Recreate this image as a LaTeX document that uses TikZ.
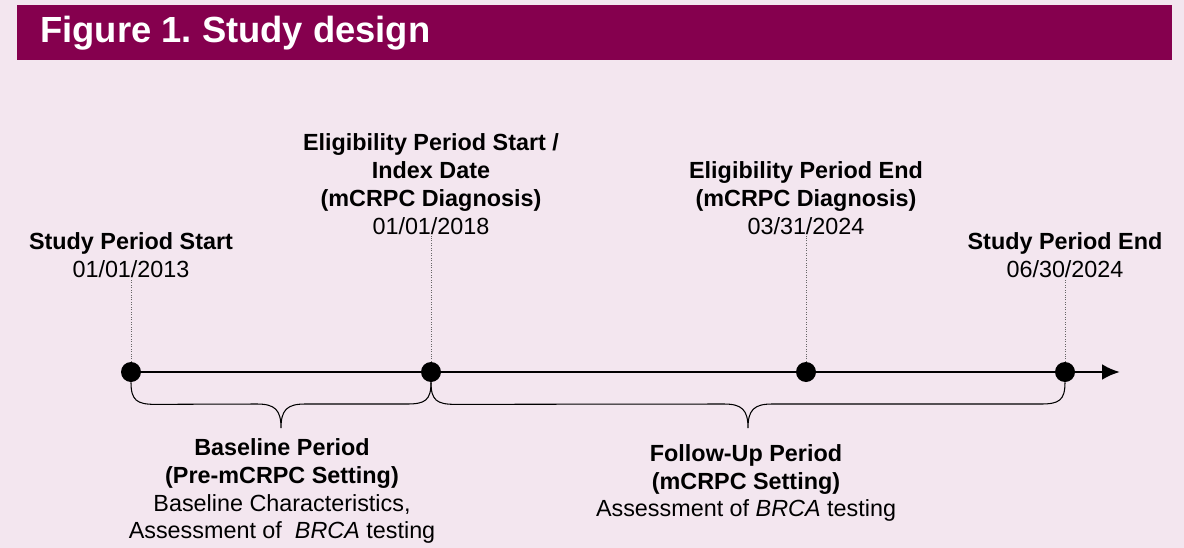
\documentclass[tikz,border=0pt]{standalone}
\usepackage{fontspec}
\setmainfont{Liberation Sans}
\usetikzlibrary{arrows.meta,calc}
\definecolor{sdbg}{HTML}{F3E6EF}
\definecolor{sdtitle}{HTML}{85004E}
\frenchspacing

\begin{document}
\begin{tikzpicture}[x=0.02cm,y=-0.02cm,font=\fontsize{13.3}{15.9}\selectfont,
  dot/.style={circle,fill=black,inner sep=0pt,minimum size=0.4cm},
  lbl/.style={align=center,inner sep=0pt},
  tick/.style={densely dotted,black!60,thin},
  brc/.style={black,semithick},
  axis/.style={-{Latex[length=3.6mm,width=3.2mm]},line width=1.7pt}]

% ---------------- page and title bar ---------------------------------------
\fill[sdbg] (0,0) rectangle (1184,548);
\useasboundingbox (0,0) rectangle (1184,548);
\fill[sdtitle] (17,5) rectangle (1172,60);
\node[anchor=west,text=white,inner sep=0pt,font=\fontsize{20.7}{24}\selectfont\bfseries]
  (title) at (40,33) {Figure 1. Study design};

% ---------------- timeline --------------------------------------------------
\coordinate (tl) at (1120,372);
\node[dot] (d1) at (131,372) {};
\node[dot] (d2) at (431,372) {};
\node[dot] (d3) at (806,372) {};
\node[dot] (d4) at (1065,372) {};
\draw[axis] (d1.center) -- (tl);

\foreach \n/\h in {d1/82, d2/127, d3/127, d4/82}
  \draw[tick] (\n.north) -- ++(0,-\h);

% ---------------- milestones -------------------------------------------------
\node[lbl] (s1) at (131,255) {\textbf{Study Period Start}\\01/01/2013};
\node[lbl] (s2) at (431,184)
  {\textbf{Eligibility Period Start /}\\\textbf{Index Date}\\\textbf{(mCRPC Diagnosis)}\\01/01/2018};
\node[lbl] (s3) at (806,198)
  {\textbf{Eligibility Period End}\\\textbf{(mCRPC Diagnosis)}\\03/31/2024};
\node[lbl] (s4) at (1065,255) {\textbf{Study Period End}\\06/30/2024};

% ---------------- braces under the periods -----------------------------------
\coordinate (b1) at ($(d1)!0.5!(d2)+(0,56)$);
\coordinate (b2) at ($(d2)!0.5!(d4)+(0,56)$);
\draw[brc] (d1.south) .. controls +(0,18) and +(-18,0) .. ++(24,22)
  -- ($(b1)+(-24,-24)$) .. controls +(18,0) and +(0,-18) .. (b1)
  .. controls +(0,-18) and +(-18,0) .. ($(b1)+(24,-24)$)
  -- ($(d2)+(-24,32)$) .. controls +(18,0) and +(0,18) .. (d2.south);
\draw[brc] (d2.south) .. controls +(0,18) and +(-18,0) .. ++(24,22)
  -- ($(b2)+(-24,-24)$) .. controls +(18,0) and +(0,-18) .. (b2)
  .. controls +(0,-18) and +(-18,0) .. ($(b2)+(24,-24)$)
  -- ($(d4)+(-24,32)$) .. controls +(18,0) and +(0,18) .. (d4.south);

\node[lbl] (p1) at (282,491)
  {\textbf{Baseline Period}\\\textbf{(Pre-mCRPC Setting)}\\Baseline Characteristics,\\Assessment of\ \ \textit{BRCA} testing};
\node[lbl] (p2) at (746,483)
  {\textbf{Follow-Up Period}\\\textbf{(mCRPC Setting)}\\Assessment of \textit{BRCA} testing};

\end{tikzpicture}
\end{document}
